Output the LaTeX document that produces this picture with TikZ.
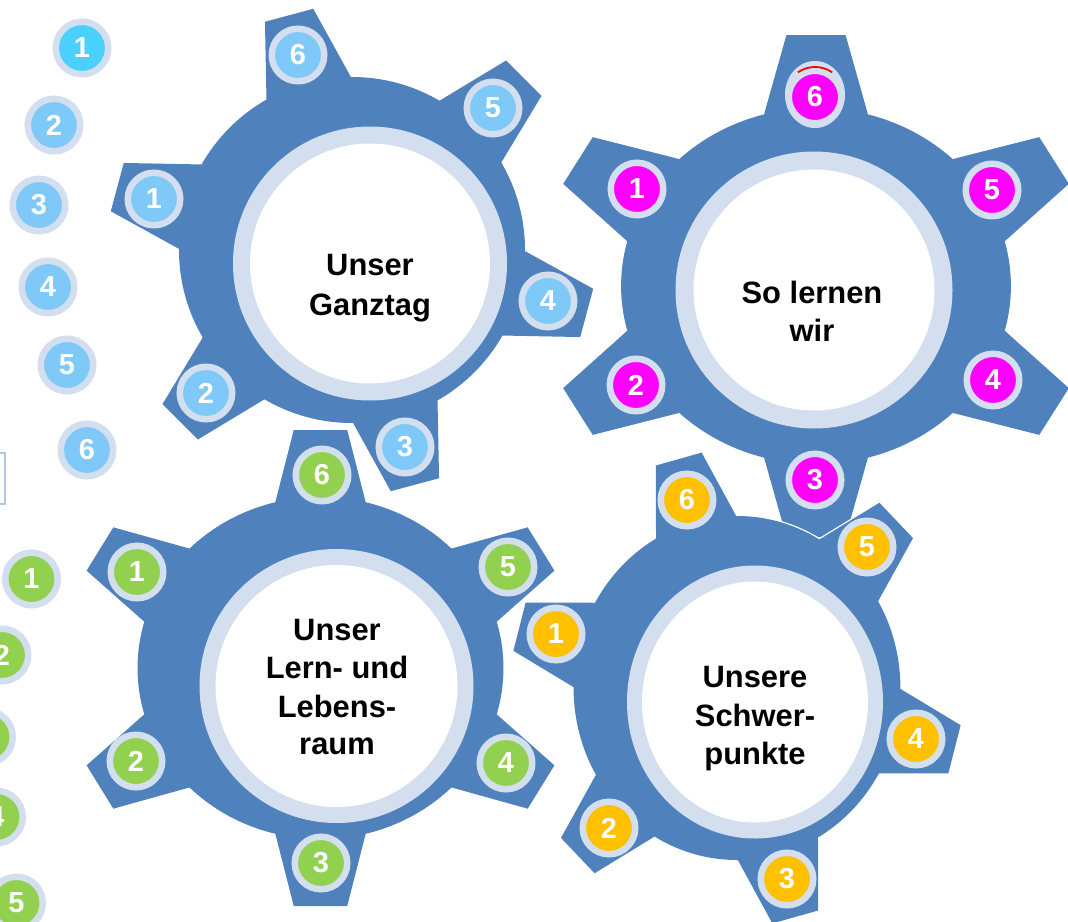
\documentclass[tikz,border=0pt]{standalone}
\usepackage{fontspec}
\setmainfont{Liberation Sans}
\definecolor{gearblue}{HTML}{4F81BD}
\definecolor{ringc}{HTML}{D3DFEE}
\definecolor{lblue}{HTML}{7FC9F9}
\definecolor{cyanb}{HTML}{4BD0FE}
\definecolor{greenb}{HTML}{92D050}
\definecolor{magb}{HTML}{FF00FF}
\definecolor{orab}{HTML}{FFC000}
\definecolor{boxc}{HTML}{B4C6E2}
\tikzset{
  badge/.style={circle, draw=ringc, line width=6.5bp, minimum size=52.5bp, inner sep=0pt,
    text=white, font=\fontsize{29}{29}\selectfont\bfseries},
  title/.style={font=\fontsize{31}{31}\selectfont\bfseries, anchor=base, inner sep=0pt, text=black},
  halo/.style={draw=white, line width=2.6bp},
}
% #1 cx, #2 cy, #3 xscale, #4 start angle, #5 body r, #6 tip r, #7 tip half width, #8 half width at r=150
\newcommand\mygear[8]{%
  \begin{scope}[shift={(#1,#2)}, xscale=#3]
    \foreach \k in {0,...,5}{
      \draw[halo, rotate=#4+60*\k] (150,-#8) -- (#6,-#7) -- (#6,#7) -- (150,#8) -- cycle;
    }
    \draw[halo] (0,0) circle[radius=#5];
    \foreach \k in {0,...,5}{
      \fill[gearblue, rotate=#4+60*\k] (150,-#8) -- (#6,-#7) -- (#6,#7) -- (150,#8) -- cycle;
    }
    \fill[gearblue] (0,0) circle[radius=#5];
  \end{scope}}
\begin{document}
\begin{tikzpicture}[x=1bp, y=-1bp]
\useasboundingbox (0,0) rectangle (1068,922);
\clip (0,0) rectangle (1068,922);
\fill[white] (0,0) rectangle (1068,922);

% left column of blue badges
\node[badge, fill=cyanb] (lb1) at (82,48) {1};
\node[badge, fill=lblue] (lb2) at (54,125) {2};
\node[badge, fill=lblue] (lb3) at (39,205) {3};
\node[badge, fill=lblue] (lb4) at (48,287) {4};
\node[badge, fill=lblue] (lb5) at (67,365) {5};
\node[badge, fill=lblue] (lb6) at (87,450) {6};
% small box at left edge
\draw[boxc, line width=1.5bp] (-10,453) -- (5,453) -- (5,504) -- (-10,504);
% left column of green badges
\node[badge, fill=greenb] (lg1) at (31.5,579) {1};
\node[badge, fill=greenb] (lg2) at (2,655) {2};
\node[badge, fill=greenb] (lg3) at (-13.5,737) {3};
\node[badge, fill=greenb] (lg4) at (-3.5,817) {4};
\node[badge, fill=greenb] (lg5) at (16.5,903) {5};

% ---------- Gear 1: Unser Ganztag
\mygear{352}{250}{1}{105}{173}{243}{25}{48}
\fill[ringc] (370,263.5) circle[radius=137];
\fill[white] (370,263.5) circle[radius=120];
\node[title] (g1a) at (370,275) {Unser};
\node[title] (g1b) at (370,315) {Ganztag};
\node[badge, fill=lblue] (a1) at (154,199) {1};
\node[badge, fill=lblue] (a2) at (206,393) {2};
\node[badge, fill=lblue] (a3) at (405,447) {3};
\node[badge, fill=lblue] (a4) at (548,301) {4};
\node[badge, fill=lblue] (a5) at (493,108) {5};
\node[badge, fill=lblue] (a6) at (298,55) {6};

% ---------- Gear 2: So lernen wir
\mygear{816}{286}{1.095}{90}{178}{251}{27}{53}
\fill[ringc] (814,290) circle[radius=138.5];
\fill[white] (814,290) circle[radius=120.5];
\node[title] (g2a) at (812,303) {So lernen};
\node[title] (g2b) at (812,341.5) {wir};
\node[badge, fill=magb] (b1) at (637,189) {1};
\node[badge, fill=magb] (b2) at (636,385) {2};
\node[badge, fill=magb] (b3) at (815,480) {3};
\node[badge, fill=magb] (b4) at (993,380) {4};
\node[badge, fill=magb] (b5) at (992,190) {5};
\fill[ringc] (815,94.5) ellipse[x radius=30, y radius=33.5];
\node[badge, fill=magb] (b6) at (815,97) {6};
\draw[red, line width=1.8bp] (797.8,72.4) arc[start angle=-125, end angle=-55, radius=30];

% ---------- Gear 3: Unser Lern- und Lebensraum
\mygear{320.5}{668}{1.07}{90}{171}{238}{25}{46}
\fill[ringc] (336.5,686) circle[radius=137];
\fill[white] (336.5,686) circle[radius=121];
\node[title] (g3a) at (337,640) {Unser};
\node[title] (g3b) at (337,678) {Lern- und};
\node[title] (g3c) at (337,717) {Lebens-};
\node[title] (g3d) at (337,754) {raum};
\node[badge, fill=greenb] (c1) at (137,572) {1};
\node[badge, fill=greenb] (c2) at (136,761) {2};
\node[badge, fill=greenb] (c3) at (321,863) {3};
\node[badge, fill=greenb] (c4) at (506,763) {4};
\node[badge, fill=greenb] (c5) at (508,567) {5};
\node[badge, fill=greenb] (c6) at (322,475) {6};

% ---------- Gear 4: Unsere Schwerpunkte
\mygear{737}{688}{0.95}{105}{172}{237}{25}{48}
\fill[ringc] (755,702) ellipse[x radius=128, y radius=136.5];
\fill[white] (755,702) ellipse[x radius=113, y radius=120.5];
\node[title] (g4a) at (755,687) {Unsere};
\node[title] (g4b) at (755,726) {Schwer-};
\node[title] (g4c) at (755,764) {punkte};
\node[badge, fill=orab] (d1) at (556,634) {1};
\node[badge, fill=orab] (d2) at (609,828) {2};
\node[badge, fill=orab] (d3) at (787,879) {3};
\node[badge, fill=orab] (d4) at (916,739) {4};
\node[badge, fill=orab] (d5) at (867,547) {5};
\node[badge, fill=orab] (d6) at (687,500) {6};
\end{tikzpicture}
\end{document}
